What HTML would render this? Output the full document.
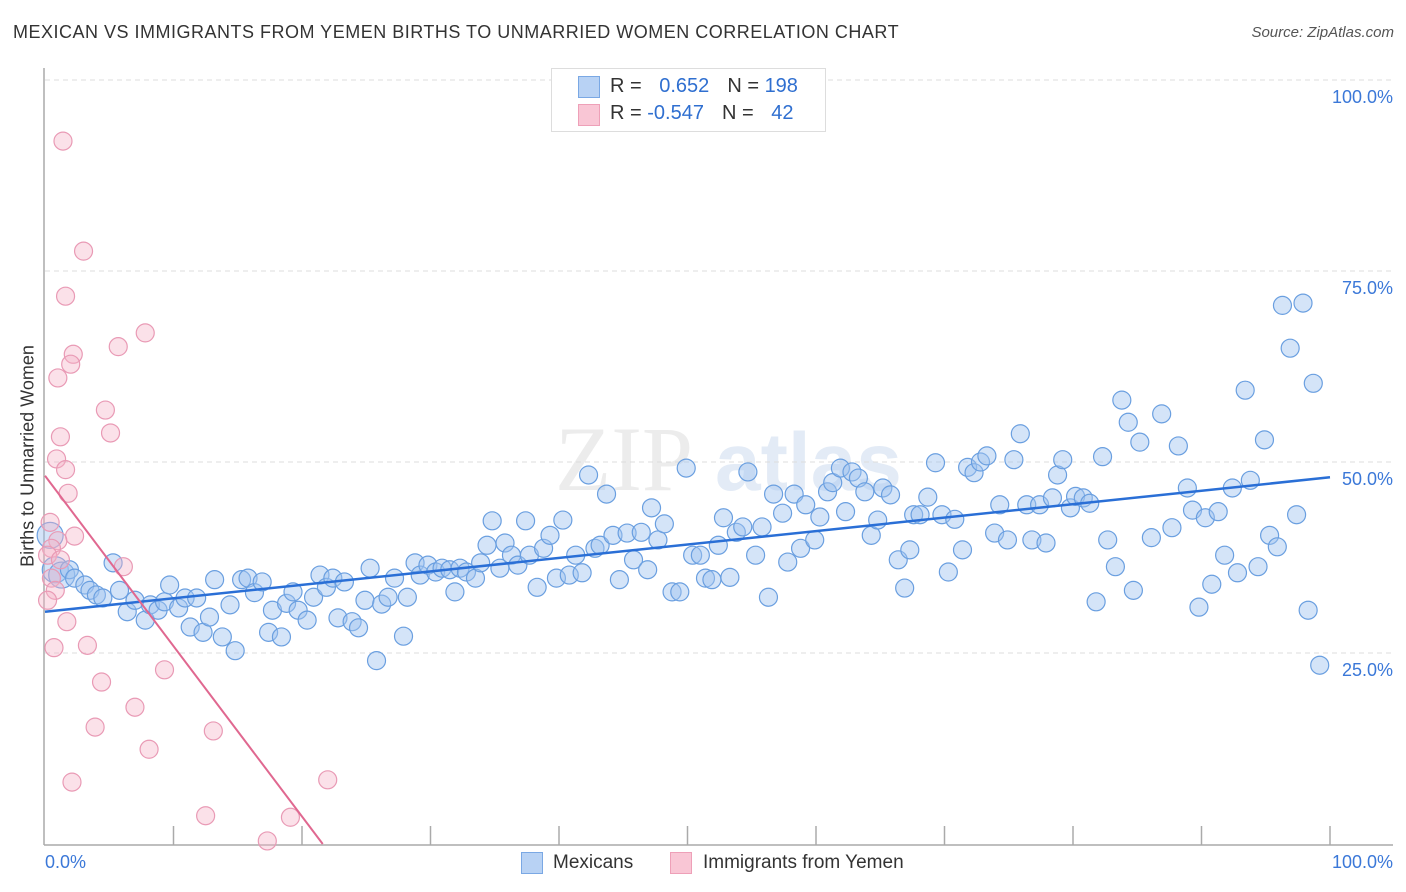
<!DOCTYPE html>
<html><head><meta charset="utf-8"><style>
body{margin:0;background:#fff;font-family:"Liberation Sans",sans-serif;}
#wrap{position:relative;width:1406px;height:892px;overflow:hidden;}
.t{position:absolute;white-space:nowrap;}
</style></head><body><div id="wrap">
<div class="t" style="left:13px;top:22px;font-size:18px;color:#333;letter-spacing:0.5px;">MEXICAN VS IMMIGRANTS FROM YEMEN BIRTHS TO UNMARRIED WOMEN CORRELATION CHART</div>
<div class="t" style="right:12px;top:24px;font-size:15px;color:#555;font-style:italic;">Source: ZipAtlas.com</div>
<svg id="svg" width="1406" height="892" style="position:absolute;left:0;top:0"></svg>
</div>
<script>
const blueX=[0.4,0.8,1.3,1.9,2.3,3.1,3.5,4.0,4.5,5.3,5.8,6.4,7.0,7.8,8.2,8.8,9.3,9.7,10.4,10.9,11.3,11.8,12.3,12.8,13.2,13.8,14.4,14.8,15.3,15.8,16.3,16.9,17.4,17.7,18.4,18.8,19.3,19.7,20.4,20.9,21.4,21.9,22.4,22.8,23.3,23.9,24.4,24.9,25.3,25.8,26.2,26.7,27.2,27.9,28.2,28.8,29.2,29.8,30.4,30.9,31.5,31.9,32.3,32.8,33.5,33.9,34.4,34.8,35.4,35.8,36.3,36.8,37.4,37.7,38.3,38.8,39.3,39.8,40.3,40.8,41.3,41.8,42.3,42.8,43.2,43.7,44.2,44.7,45.3,45.8,46.4,46.9,47.2,47.7,48.2,48.8,49.4,49.9,50.4,51.0,51.4,51.9,52.4,52.8,53.3,53.8,54.3,54.7,55.3,55.8,56.3,56.7,57.4,57.8,58.3,58.8,59.2,59.9,60.3,60.9,61.3,61.9,62.3,62.8,63.3,63.8,64.3,64.8,65.2,65.8,66.4,66.9,67.3,67.6,68.1,68.7,69.3,69.8,70.3,70.8,71.4,71.8,72.3,72.8,73.3,73.9,74.3,74.9,75.4,75.9,76.4,76.8,77.4,77.9,78.4,78.8,79.2,79.8,80.2,80.8,81.3,81.8,82.3,82.7,83.3,83.8,84.3,84.7,85.2,86.1,86.9,87.7,88.2,88.9,89.3,89.8,90.3,90.8,91.3,91.8,92.4,92.8,93.4,93.8,94.4,94.9,95.3,95.9,96.3,96.9,97.4,97.9,98.3,98.7,99.2];
const blueY=[40.4,35.9,35.2,35.9,34.8,33.9,33.2,32.6,32.2,36.8,33.2,30.4,31.9,29.3,31.3,30.6,31.7,33.9,30.9,32.2,28.4,32.2,27.7,29.7,34.6,27.1,31.3,25.3,34.6,34.8,32.9,34.3,27.7,30.6,27.1,31.5,33.0,30.6,29.3,32.3,35.2,33.6,34.8,29.6,34.3,29.1,28.3,31.9,36.1,24.0,31.4,32.3,34.8,27.2,32.3,36.8,35.2,36.5,35.6,36.1,35.9,33.0,36.1,35.6,34.8,36.8,39.1,42.3,36.1,39.4,37.8,36.5,42.3,37.8,33.6,38.7,40.4,34.8,42.4,35.2,37.8,35.5,48.3,38.7,39.1,45.8,40.4,34.6,40.7,37.2,40.8,35.9,44.0,39.8,41.9,33.0,33.0,49.2,37.8,37.8,34.8,34.6,39.1,42.7,34.9,40.8,41.5,48.7,37.8,41.5,32.3,45.8,43.3,36.9,45.8,38.7,44.4,39.8,42.8,46.1,47.3,49.2,43.5,48.7,47.9,46.1,40.4,42.4,46.6,45.7,37.2,33.5,38.5,43.1,43.1,45.4,49.9,43.1,35.6,42.5,38.5,49.3,48.6,50.0,50.8,40.7,44.4,39.8,50.3,53.7,44.4,39.8,44.4,39.4,45.3,48.3,50.3,44.0,45.5,45.3,44.6,31.7,50.7,39.8,36.3,58.1,55.2,33.2,52.6,40.1,56.3,41.4,52.1,46.6,43.7,31.0,42.7,34.0,43.5,37.8,46.6,35.5,59.4,47.6,36.3,52.9,40.4,38.9,70.5,64.9,43.1,70.8,30.6,60.3,23.4];
const pinkX=[1.4,3.0,1.6,7.8,2.2,5.7,2.0,1.0,4.7,5.1,1.2,0.9,1.6,1.8,0.4,2.3,1.0,0.5,0.2,1.2,6.1,0.5,0.8,0.2,1.7,3.3,0.7,9.3,4.4,7.0,3.9,8.1,13.1,2.1,22.0,12.5,19.1,17.3];
const pinkY=[92.0,77.6,71.7,66.9,64.1,65.1,62.8,61.0,56.8,53.8,53.3,50.4,49.0,45.9,42.1,40.3,39.7,38.7,37.8,37.2,36.3,34.8,33.2,31.9,29.1,26.0,25.7,22.8,21.2,17.9,15.3,12.4,14.8,8.1,8.4,3.7,3.5,0.4];
const blueTrend=[30.4,48.0];      // y at x=0 and x=100
const pinkTrend=[48.2,-2.23];     // intercept, slope
const yTicks=[25,50,75,100];
const yTickLabels=["25.0%","50.0%","75.0%","100.0%"];
const xTicks=[0,10,20,30,40,50,60,70,80,90,100];

const NS="http://www.w3.org/2000/svg",svg=document.getElementById('svg');
const X0=45,X1=1330,Y0=844,PY=7.64;
const sx=v=>X0+(X1-X0)*v/100, sy=v=>Y0-v*PY;
function mk(t,a,p){const e=document.createElementNS(NS,t);for(const k in a)e.setAttribute(k,a[k]);(p||svg).appendChild(e);return e;}
let wm=mk('text',{x:555,y:490,'font-size':92,'font-family':'Liberation Serif, serif',fill:'#ececec'});wm.textContent='ZIP';


let wm2=mk('text',{x:715,y:490,'font-size':82,'font-family':'Liberation Sans, sans-serif',fill:'#e3ebf6','font-weight':'bold'});wm2.textContent='atlas';


yTicks.forEach((v,i)=>{
 const g=mk('line',{x1:45,x2:1393,y1:sy(v),y2:sy(v),stroke:'#dcdcdc','stroke-dasharray':'5,4'});
 
 
 const t=mk('text',{x:1393,y:sy(v)+23,'text-anchor':'end','font-size':18,fill:'#3b78d8'});t.textContent=yTickLabels[i];
 
 
});
let ax=mk('line',{x1:44,x2:1393,y1:845,y2:845,stroke:'#aaa','stroke-width':1.5});


let ay=mk('line',{x1:44,x2:44,y1:68,y2:845,stroke:'#aaa','stroke-width':1.5});


xTicks.forEach(v=>{if(v===0)return;const l=mk('line',{x1:sx(v),x2:sx(v),y1:826,y2:845,stroke:'#aaa','stroke-width':1.5});
 
 });
blueX.forEach((x,i)=>{const c=mk('circle',{cx:sx(x),cy:sy(blueY[i]),r:i<3?13:9,fill:'rgba(160,196,240,0.45)',stroke:'#6a9fe0','stroke-width':1.2});
 
 });
pinkX.forEach((x,i)=>{const c=mk('circle',{cx:sx(x),cy:sy(pinkY[i]),r:9,fill:'rgba(246,180,200,0.4)',stroke:'#e99ab5','stroke-width':1.2});
 
 });
let bl=mk('line',{x1:sx(0),y1:sy(blueTrend[0]),x2:sx(100),y2:sy(blueTrend[1]),stroke:'#2a6fd6','stroke-width':2.5});


const pxEnd=-pinkTrend[0]/pinkTrend[1];
let pl=mk('line',{x1:sx(0),y1:sy(pinkTrend[0]),x2:sx(pxEnd),y2:sy(0),stroke:'#e06890','stroke-width':2});


</script>
<div class="t" style="left:28px;top:456px;font-size:18px;color:#333;transform:translate(-50%,-50%) rotate(-90deg);">Births to Unmarried Women</div>
<div class="t" style="left:45px;top:852px;font-size:18px;color:#3b78d8;">0.0%</div>
<div class="t" style="right:13px;top:852px;font-size:18px;color:#3b78d8;">100.0%</div>
<div style="position:absolute;left:551px;top:68px;width:273px;height:62px;border:1px solid #ddd;background:#fff;font-size:20px;">
 <div style="position:absolute;left:26px;top:7px;width:20px;height:20px;background:#b8d2f4;border:1px solid #7aa8e4;"></div>
 <div style="position:absolute;left:26px;top:35px;width:20px;height:20px;background:#f9c6d5;border:1px solid #eea0b8;"></div>
 <div class="t" style="left:58px;top:6px;color:#333;">R = <span style="color:#2f6fd0;margin-left:12px">0.652</span><span style="margin-left:18px">N = </span><span style="color:#2f6fd0">198</span></div>
 <div class="t" style="left:58px;top:33px;color:#333;">R = <span style="color:#2f6fd0">-0.547</span><span style="margin-left:18px">N = </span><span style="color:#2f6fd0;margin-left:12px">42</span></div>
</div>
<div style="position:absolute;left:521px;top:852px;font-size:19px;color:#333;">
 <div style="position:absolute;left:0;top:0;width:20px;height:20px;background:#b8d2f4;border:1px solid #7aa8e4;"></div>
 <div class="t" style="left:32px;top:0;">Mexicans</div>
 <div style="position:absolute;left:149px;top:0;width:20px;height:20px;background:#f9c6d5;border:1px solid #eea0b8;"></div>
 <div class="t" style="left:182px;top:0;">Immigrants from Yemen</div>
</div>
</body></html>
